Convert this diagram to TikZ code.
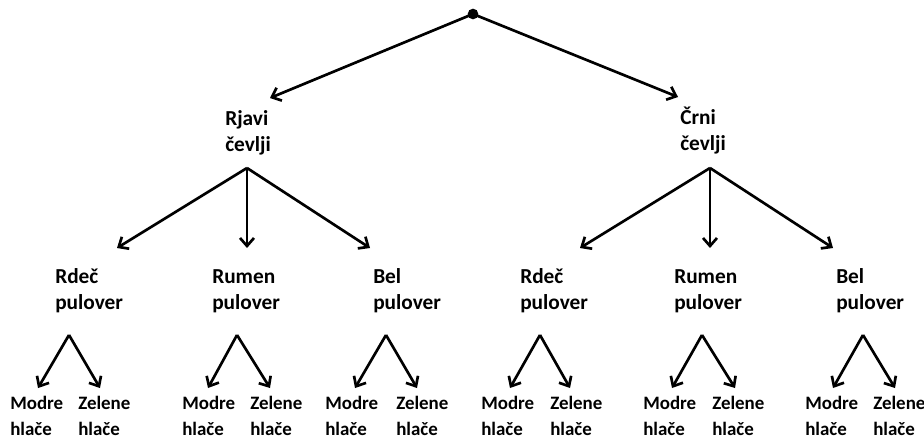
\documentclass[tikz,border=0pt]{standalone}
\usepackage{fontspec}
\setmainfont{Carlito}
\usetikzlibrary{arrows.meta, positioning}

\begin{document}
\begin{tikzpicture}[
            x=0.75pt, y=-0.75pt,
            upper_style/.style={anchor=base west, inner sep=0pt, align=left, font=\fontsize{16}{19.5}\selectfont\bfseries},
            lower_style/.style={anchor=base west, inner sep=0pt, align=left, font=\fontsize{14.2}{18.8}\selectfont\bfseries},
            line/.style={-{Straight Barb[length=6pt, width=10.5pt, line width=2pt]}, line width=2pt}
        ]
        \useasboundingbox (0,0) rectangle (924,439);

        % Root
        \node (root) [circle, fill, inner sep=0pt, minimum size=8pt] at (473,14) {};

        % Shoes (anchored on the last line)
        \node (rjavi) [upper_style] at (225,151) {Rjavi\\čevlji};
        \node (crni) [upper_style] at (680,150) {Črni\\čevlji};

        % Pullovers
        \node (rdec1) [upper_style] at (55,309) {Rdeč\\pulover};
        \node (rumen1) [upper_style] at (212,309) {Rumen\\pulover};
        \node (bel1) [upper_style] at (373,309) {Bel\\pulover};
        \node (rdec2) [upper_style] at (520,309) {Rdeč\\pulover};
        \node (rumen2) [upper_style] at (674,309) {Rumen\\pulover};
        \node (bel2) [upper_style] at (836,309) {Bel\\pulover};

        % Trousers
        \foreach \name/\mx/\zx in {a/10/78, b/182/250, c/325/396, d/481/550, e/643/712, f/805/873} {
            \node (modre-\name) [lower_style] at (\mx,435) {Modre\\hlače};
            \node (zelene-\name) [lower_style] at (\zx,435) {Zelene\\hlače};
        }

        % Connector ends
        \coordinate (rjavi-out) at (247,168);
        \coordinate (crni-out) at (710,168);
        \coordinate (rjavi-in) at (270,98);
        \coordinate (crni-in) at (678,97);
        \foreach \name/\ox/\tx in {rdec1/117/69, rumen1/247/237, bel1/370/386, rdec2/580/540, rumen2/710/702, bel2/833/863} {
            \coordinate (\name-in) at (\ox,248);
            \coordinate (\name-out) at (\tx,335);
        }
        \foreach \name/\mx/\zx in {a/38/100, b/208/270, c/355/417, d/510/570, e/672/735, f/833/895} {
            \coordinate (modre-\name-in) at (\mx,388);
            \coordinate (zelene-\name-in) at (\zx,388);
        }

        % Arrows
        \draw [line] (root.center) -- (rjavi-in);
        \draw [line] (root.center) -- (crni-in);
        \foreach \p in {rdec1, rumen1, bel1}
            \draw [line] (rjavi-out) -- (\p-in);
        \foreach \p in {rdec2, rumen2, bel2}
            \draw [line] (crni-out) -- (\p-in);
        \foreach \p/\name in {rdec1/a, rumen1/b, bel1/c, rdec2/d, rumen2/e, bel2/f} {
            \draw [line] (\p-out) -- (modre-\name-in);
            \draw [line] (\p-out) -- (zelene-\name-in);
        }

    \end{tikzpicture}
\end{document}
